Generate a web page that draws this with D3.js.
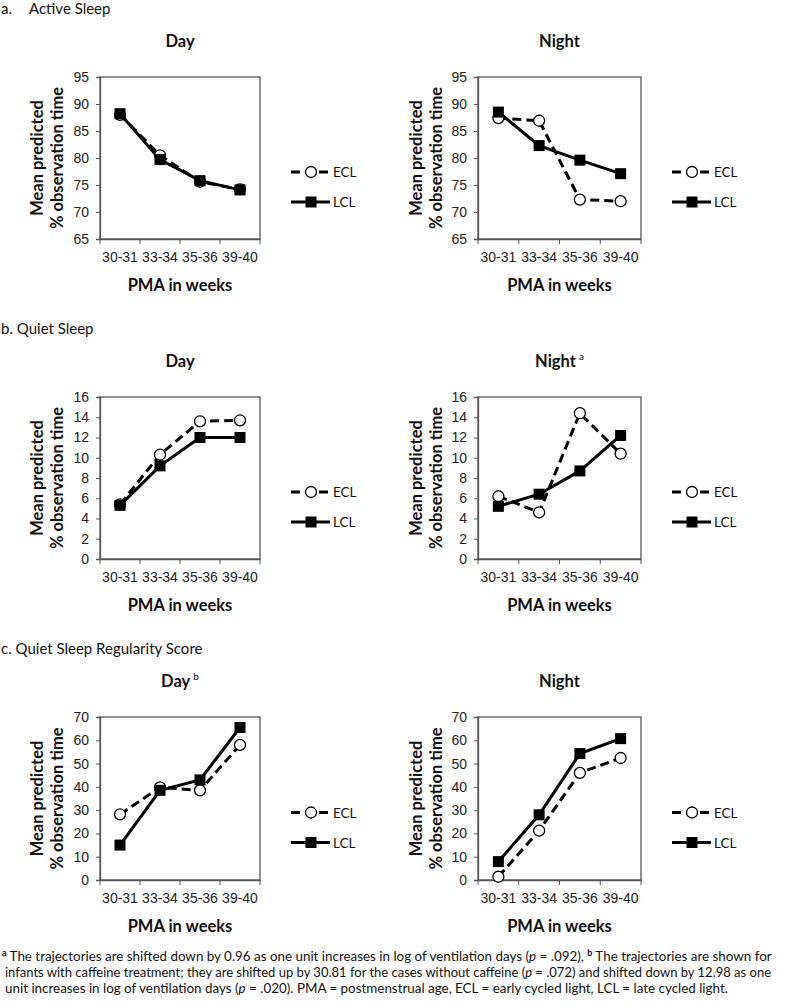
<!DOCTYPE html>
<html><head><meta charset="utf-8">
<script src="https://cdn.jsdelivr.net/npm/d3@7"></script>
<style>
body{margin:0;background:#fff;}
svg{font-family:Lato,"Open Sans",sans-serif;}
</style></head>
<body><svg id="c" width="790" height="1008"></svg>
<script>
const categories = ["30-31","33-34","35-36","39-40"];
const seriesNames = ["ECL","LCL"];
// Active sleep
const asDayECL = [88.0, 80.5, 75.6, 74.2];
const asDayLCL = [88.2, 79.7, 75.8, 74.1];
const asNightECL = [87.4, 86.9, 72.3, 72.0];
const asNightLCL = [88.5, 82.3, 79.6, 77.1];
const asTicks = [65,70,75,80,85,90,95];
// Quiet sleep
const qsDayECL = [5.4, 10.3, 13.6, 13.7];
const qsDayLCL = [5.3, 9.2, 12.0, 12.0];
const qsNightECL = [6.2, 4.6, 14.4, 10.4];
const qsNightLCL = [5.2, 6.4, 8.7, 12.2];
const qsTicks = [0,2,4,6,8,10,12,14,16];
// Quiet sleep regularity score
const qrDayECL = [28.2, 39.8, 38.5, 58.0];
const qrDayLCL = [15.0, 38.5, 43.0, 65.5];
const qrNightECL = [1.4, 21.2, 46.0, 52.4];
const qrNightLCL = [7.9, 28.0, 54.3, 60.7];
const qrTicks = [0,10,20,30,40,50,60,70];

const svg = d3.select("#c");
const axisColor = "#555";

function panel(opt){
  const {x0, x1, y0, y1, ticks, ecl, lcl, title, sup, axisX} = opt;
  const g = svg.append("g");
  const x = d3.scaleBand().domain(categories).range([x0, x1]).padding(0);
  const y = d3.scaleLinear().domain([ticks[0], ticks[ticks.length-1]]).range([y1, y0]);
  // box
  g.append("rect").attr("x", x0).attr("y", y0).attr("width", x1-x0).attr("height", y1-y0)
    .attr("fill","none").attr("stroke", axisColor).attr("stroke-width",1.3);
  // y axis
  const ya = g.append("g").attr("transform",`translate(${x0},0)`)
    .call(d3.axisLeft(y).tickValues(ticks).tickSize(4).tickPadding(7));
  ya.select(".domain").attr("stroke", axisColor).attr("stroke-width",1.3);
  ya.selectAll(".tick line").attr("stroke", axisColor);
  ya.selectAll("text").attr("font-size", 14).attr("fill","#222");
  // x axis: ticks at category boundaries
  const xa = g.append("g").attr("transform",`translate(0,${y1})`)
    .call(d3.axisBottom(x).tickSize(0).tickPadding(13));
  xa.select(".domain").attr("stroke", axisColor).attr("stroke-width",1.3);
  xa.selectAll("text").attr("font-size", 14).attr("fill","#222");
  const bounds = categories.map(c => x(c)).concat([x1]);
  g.selectAll(".bt").data(bounds).enter().append("line")
    .attr("x1", d=>d).attr("x2", d=>d).attr("y1", y1).attr("y2", y1+5)
    .attr("stroke", axisColor).attr("stroke-width",1);
  const cx = c => x(c) + x.bandwidth()/2;
  const line = d3.line().x((d,i)=>cx(categories[i])).y(d=>y(d));
  // ECL dashed
  g.append("path").datum(ecl).attr("d", line).attr("fill","none")
    .attr("stroke","#000").attr("stroke-width",3).attr("stroke-dasharray","9,5");
  // LCL solid
  g.append("path").datum(lcl).attr("d", line).attr("fill","none")
    .attr("stroke","#000").attr("stroke-width",3);
  g.selectAll(".ec").data(ecl).enter().append("circle")
    .attr("cx",(d,i)=>cx(categories[i])).attr("cy", d=>y(d)).attr("r",5.5)
    .attr("fill","#fff").attr("stroke","#000").attr("stroke-width",1.3);
  g.selectAll(".lc").data(lcl).enter().append("rect")
    .attr("x",(d,i)=>cx(categories[i])-5.5).attr("y", d=>y(d)-5.5)
    .attr("width",11).attr("height",11).attr("fill","#000");
  // title
  const mid = (x0+x1)/2;
  const t = g.append("text").attr("x", mid).attr("y", y0-30).attr("text-anchor","middle")
    .attr("font-size",16.5).attr("font-weight","bold").attr("fill","#111").text(title);
  if (sup) t.append("tspan").attr("font-size",10).attr("dy",-7).attr("dx",3).attr("font-weight","normal").text(sup);
  // y title
  const ym = (y0+y1)/2;
  g.append("text").attr("transform",`translate(${axisX},${ym}) rotate(-90)`)
    .attr("text-anchor","middle").attr("font-size",16.5).attr("font-weight","bold").attr("fill","#111")
    .text("Mean predicted");
  g.append("text").attr("transform",`translate(${axisX+20},${ym}) rotate(-90)`)
    .attr("text-anchor","middle").attr("font-size",16.5).attr("font-weight","bold").attr("fill","#111")
    .text("% observation time");
  // x title
  g.append("text").attr("x", mid).attr("y", y1+52).attr("text-anchor","middle")
    .attr("font-size",16.5).attr("font-weight","bold").attr("fill","#111").text("PMA in weeks");
  // legend
  const lx = x1+31, ly = ym+14;
  seriesNames.forEach((s,i)=>{
    const yy = ly + i*30;
    g.append("line").attr("x1",lx).attr("x2",lx+39).attr("y1",yy).attr("y2",yy)
      .attr("stroke","#000").attr("stroke-width",3).attr("stroke-dasharray", i===0?"9,5":null);
    if(i===0) g.append("circle").attr("cx",lx+20).attr("cy",yy).attr("r",5.5)
      .attr("fill","#fff").attr("stroke","#000").attr("stroke-width",1.3);
    else g.append("rect").attr("x",lx+20-5.5).attr("y",yy-5.5).attr("width",11).attr("height",11).attr("fill","#000");
    g.append("text").attr("x",lx+42).attr("y",yy+5).attr("font-size",13.5).attr("fill","#111").text(s);
  });
}

const L = {x0:100, x1:260, axisX:43};
const R = {x0:478, x1:641, axisX:422};
const rows = [
  {y0:77, y1:239},
  {y0:397, y1:559},
  {y0:717, y1:880}
];

panel({...L, ...rows[0], ticks:asTicks, ecl:asDayECL, lcl:asDayLCL, title:"Day"});
panel({...R, ...rows[0], ticks:asTicks, ecl:asNightECL, lcl:asNightLCL, title:"Night"});
panel({...L, ...rows[1], ticks:qsTicks, ecl:qsDayECL, lcl:qsDayLCL, title:"Day"});
panel({...R, ...rows[1], ticks:qsTicks, ecl:qsNightECL, lcl:qsNightLCL, title:"Night", sup:"a"});
panel({...L, ...rows[2], ticks:qrTicks, ecl:qrDayECL, lcl:qrDayLCL, title:"Day", sup:"b"});
panel({...R, ...rows[2], ticks:qrTicks, ecl:qrNightECL, lcl:qrNightLCL, title:"Night"});

// section headings
const h1 = svg.append("text").attr("y",14).attr("font-size",15).attr("fill","#111");
h1.append("tspan").attr("x",1).text("a.");
h1.append("tspan").attr("x",29).text("Active Sleep");
svg.append("text").attr("x",1).attr("y",334).attr("font-size",15).attr("fill","#111").text("b. Quiet Sleep");
svg.append("text").attr("x",1).attr("y",654).attr("font-size",15).attr("fill","#111").text("c. Quiet Sleep Regularity Score");

// footnote
const fn = svg.append("g").attr("fill","#111");
const l1 = fn.append("text").attr("x",2).attr("y",961).attr("font-size",13.4);
l1.append("tspan").attr("font-size",9).attr("dy",-5).attr("font-weight","bold").text("a");
l1.append("tspan").attr("dy",5).text(" The trajectories are shifted down by 0.96 as one unit increases in log of ventilation days (");
l1.append("tspan").attr("font-style","italic").text("p");
l1.append("tspan").text(" = .092), ");
l1.append("tspan").attr("font-size",9).attr("dy",-5).attr("font-weight","bold").text("b");
l1.append("tspan").attr("dy",5).text(" The trajectories are shown for");
const l2 = fn.append("text").attr("x",5).attr("y",977).attr("font-size",13.0);
l2.append("tspan").text("infants with caffeine treatment; they are shifted up by 30.81 for the cases without caffeine (");
l2.append("tspan").attr("font-style","italic").text("p");
l2.append("tspan").text(" = .072) and shifted down by 12.98 as one");
const l3 = fn.append("text").attr("x",5).attr("y",993).attr("font-size",13.4);
l3.append("tspan").text("unit increases in log of ventilation days (");
l3.append("tspan").attr("font-style","italic").text("p");
l3.append("tspan").text(" = .020). PMA = postmenstrual age, ECL = early cycled light, LCL = late cycled light.");
</script></body></html>
